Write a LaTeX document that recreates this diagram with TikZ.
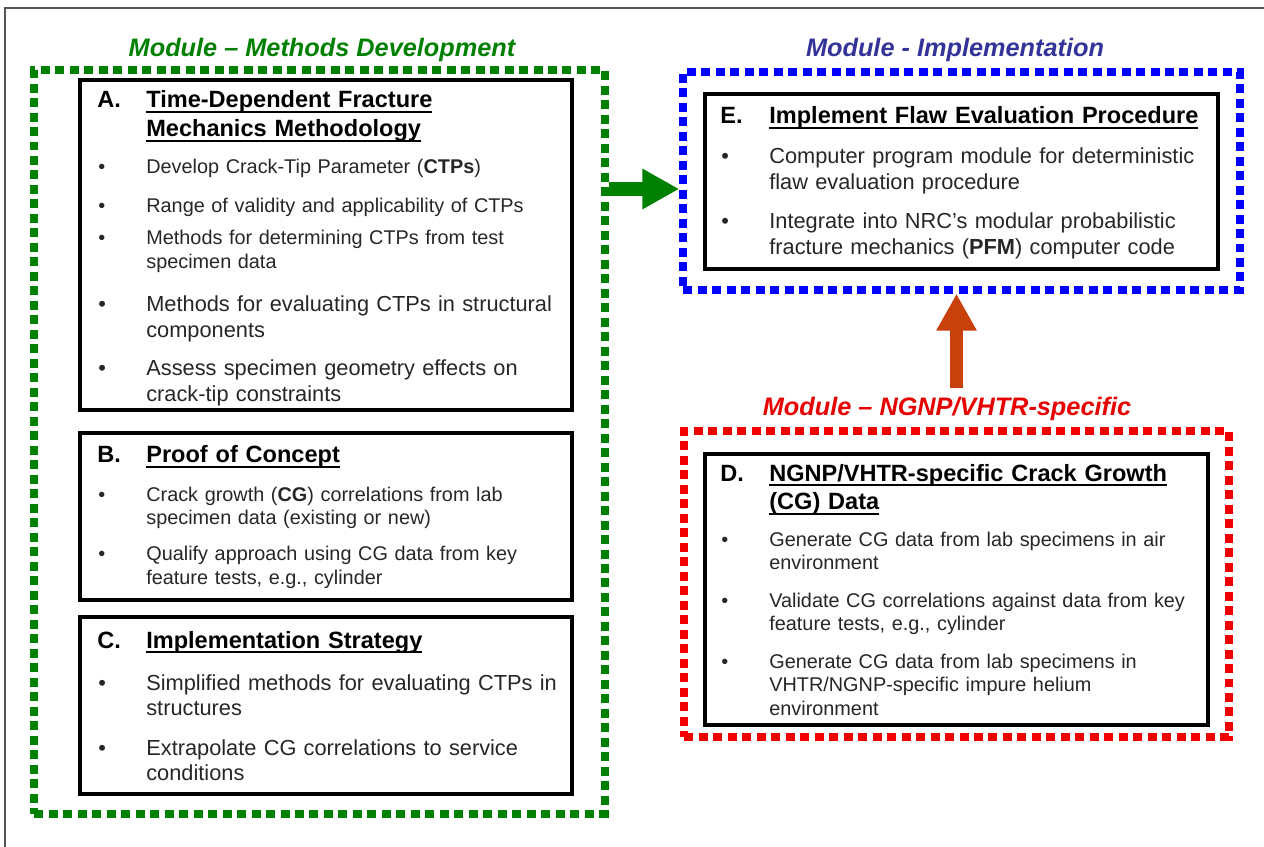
\documentclass[tikz,border=0pt]{standalone}
\usepackage{fontspec}
\setmainfont{Liberation Sans}
\usepackage{xcolor}
\usepackage{tikz}
\definecolor{modgreen}{HTML}{008000}
\definecolor{modblue}{HTML}{0000FF}
\definecolor{modred}{HTML}{F00000}
\definecolor{titleblue}{HTML}{333399}
\definecolor{titlered}{HTML}{E60000}
\definecolor{brick}{HTML}{C8400C}
\definecolor{framegray}{HTML}{555555}
\definecolor{bodytext}{HTML}{262626}
\usetikzlibrary{arrows.meta, positioning}
\newsavebox{\hulbox}
\newcommand{\hul}[1]{\sbox\hulbox{#1}\rlap{\rule[-3pt]{\wd\hulbox}{1.1pt}}\usebox\hulbox}
\newcommand{\bul}{\makebox[0.96cm][l]{\textbullet}}
\newcommand{\ind}{\hspace*{0.96cm}}
\newcommand{\lett}[1]{\makebox[0.98cm][l]{#1}}
\newcommand{\indh}{\hspace*{0.98cm}}

\tikzset{
  modframe/.style={draw=#1, line width=0.15cm, dash pattern=on 0.18cm off 0.11cm},
  taskbox/.style={draw, line width=0.08cm, inner sep=0},
  headline/.style={anchor=base west, inner sep=0, text width=10cm, font=\fontsize{13.4}{16.4}\selectfont\bfseries},
  smallitem/.style={anchor=base west, inner sep=0, text width=10cm, text=bodytext, font=\fontsize{11.3}{13.6}\selectfont},
  largeitem/.style={smallitem, font=\fontsize{12.4}{14.5}\selectfont},
  modtitle/.style={anchor=base, inner sep=0, font=\fontsize{14.4}{17}\selectfont\bfseries\itshape},
  blockarrow/.style={line width=#1, -{Triangle[length=0.74cm, width=0.76cm]}},
}

\begin{document}
\begin{tikzpicture}[x=0.02cm, y=-0.02cm]
    \useasboundingbox (0,0) rectangle (1264,847);
    \clip (0,0) rectangle (1264,847);
    \draw[framegray, line width=0.04cm] (5,8) rectangle (1300,900);

    \node[modframe=modgreen, minimum width=11.42cm, minimum height=14.88cm] (methods) at (319.5,442) {};
    \node[modframe=modblue, minimum width=11.14cm, minimum height=4.36cm] (impl) at (961.5,181) {};
    \node[modframe=modred, minimum width=10.9cm, minimum height=6.12cm] (ngnp) at (956.5,584) {};

    \node[modtitle, text=modgreen] (tmethods) at (322,57) {Module – Methods Development};
    \node[modtitle, text=titleblue] (timpl) at (955,57) {Module - Implementation};
    \node[modtitle, text=titlered] (tngnp) at (947,416) {Module – NGNP/VHTR-specific};

    \node[taskbox, minimum width=9.84cm, minimum height=6.6cm] (boxA) at (326,245) {};
    \node[headline] (headA) at (97,108) {\lett{A.}\hul{Time-Dependent Fracture}\\\indh\hul{Mechanics Methodology}};
    \node[smallitem] (itemA1) at (98,174) {\bul Develop Crack-Tip Parameter (\textbf{CTPs})};
    \node[smallitem] (itemA2) at (98,213) {\bul Range of validity and applicability of CTPs};
    \node[smallitem] (itemA3) at (98,245) {\bul Methods for determining CTPs from test\\\ind specimen data};
    \node[largeitem] (itemA4) at (98,312) {\bul Methods for evaluating CTPs in structural\\\ind components};
    \node[largeitem] (itemA5) at (98,376) {\bul Assess specimen geometry effects on\\\ind crack-tip constraints};

    \node[taskbox, minimum width=9.84cm, minimum height=3.34cm] (boxB) at (326,516.5) {};
    \node[headline] (headB) at (97,463) {\lett{B.}\hul{Proof of Concept}};
    \node[smallitem] (itemB1) at (98,501) {\bul Crack growth (\textbf{CG}) correlations from lab\\\ind specimen data (existing or new)};
    \node[smallitem] (itemB2) at (98,561) {\bul Qualify approach using CG data from key\\\ind feature tests, e.g., cylinder};

    \node[taskbox, minimum width=9.84cm, minimum height=3.54cm] (boxC) at (326,705.5) {};
    \node[headline] (headC) at (97,648) {\lett{C.}\hul{Implementation Strategy}};
    \node[largeitem] (itemC1) at (98,690) {\bul Simplified methods for evaluating CTPs in\\\ind structures};
    \node[largeitem] (itemC2) at (98,755) {\bul Extrapolate CG correlations to service\\\ind conditions};

    \node[taskbox, minimum width=10.26cm, minimum height=3.5cm] (boxE) at (961.5,181.5) {};
    \node[headline] (headE) at (720,124) {\lett{E.}\hul{Implement Flaw Evaluation Procedure}};
    \node[largeitem] (itemE1) at (721,164) {\bul Computer program module for deterministic\\\ind flaw evaluation procedure};
    \node[largeitem] (itemE2) at (721,229) {\bul Integrate into NRC’s modular probabilistic\\\ind fracture mechanics (\textbf{PFM}) computer code};

    \node[taskbox, minimum width=10.06cm, minimum height=5.42cm] (boxD) at (956.5,589.5) {};
    \node[headline] (headD) at (720,481) {\lett{D.}\hul{NGNP/VHTR-specific Crack Growth}\\\indh\hul{(CG) Data}};
    \node[smallitem] (itemD1) at (721,546) {\bul Generate CG data from lab specimens in air\\\ind environment};
    \node[smallitem] (itemD2) at (721,607) {\bul Validate CG correlations against data from key\\\ind feature tests, e.g., cylinder};
    \node[smallitem] (itemD3) at (721,668) {\bul Generate CG data from lab specimens in\\\ind VHTR/NGNP-specific impure helium\\\ind environment};

    \coordinate (gtip) at ([yshift=-0.16cm]impl.west);
    \draw[blockarrow=0.28cm, modgreen] (methods.east |- gtip) -- (gtip);
    \path (tngnp.north -| ngnp.north) ++(0,-9) coordinate (rfoot);
    \draw[blockarrow=0.26cm, brick] (rfoot) -- (ngnp.north |- impl.south);
\end{tikzpicture}
\end{document}
